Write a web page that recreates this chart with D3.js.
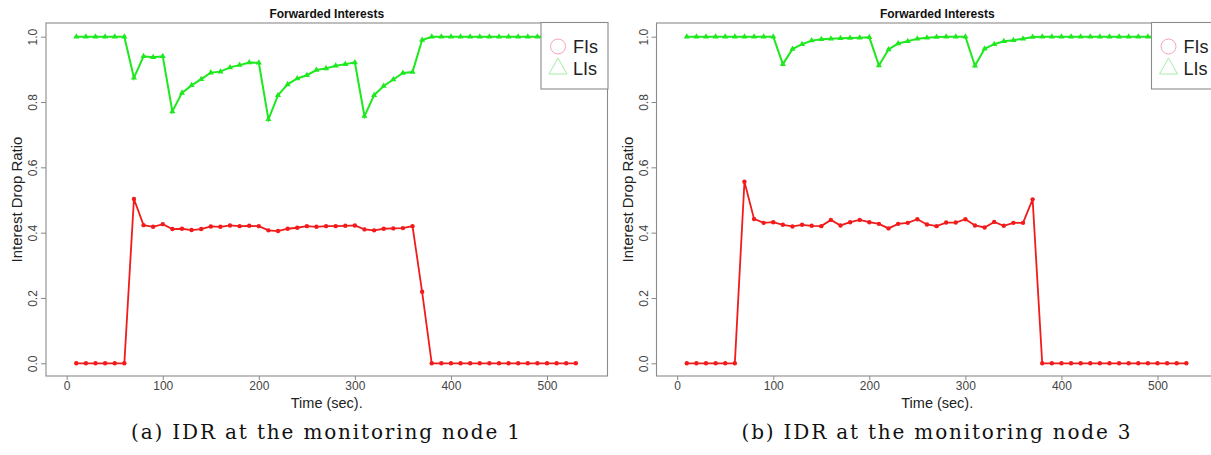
<!DOCTYPE html>
<html><head><meta charset="utf-8">
<script src="https://cdn.jsdelivr.net/npm/d3@7"></script>
<style>body{margin:0;background:#fff}svg{display:block}</style>
</head><body>
<svg id="c" width="1211" height="455"></svg>
<script>
const times = [10,20,30,40,50,60,70,80,90,100,110,120,130,140,150,160,170,180,190,200,210,220,230,240,250,260,270,280,290,300,310,320,330,340,350,360,370,380,390,400,410,420,430,440,450,460,470,480,490,500,510,520,530];
const xTicks = [0,100,200,300,400,500];
const yTicks = [0,0.2,0.4,0.6,0.8,1.0];
const yTickLabels = ["0.0","0.2","0.4","0.6","0.8","1.0"];
const seriesNames = ["FIs","LIs"];
const node1FIs = [0,0,0,0,0,0,
  0.503,0.423,0.418,0.426,0.411,0.412,0.408,0.411,0.419,0.418,
  0.422,0.420,0.421,0.420,0.407,0.405,0.412,0.415,0.420,0.418,
  0.420,0.420,0.421,0.422,0.410,0.407,0.412,0.413,0.414,0.420,
  0.219,
  0,0,0,0,0,0,0,0,0,0,0,0,0,0,0,0];
const node1LIs = [1,1,1,1,1,1,
  0.874,0.940,0.937,0.940,0.771,0.828,0.851,0.870,0.890,0.893,
  0.906,0.913,0.921,0.920,0.747,0.821,0.854,0.872,0.882,0.898,
  0.903,0.911,0.916,0.921,0.757,0.821,0.849,0.869,0.889,0.892,
  0.990,
  1,1,1,1,1,1,1,1,1,1,1,1,1,1,1,1];
const node3FIs = [0,0,0,0,0,0,
  0.556,0.442,0.430,0.432,0.424,0.419,0.424,0.421,0.420,0.439,
  0.422,0.432,0.439,0.432,0.427,0.413,0.427,0.430,0.441,0.425,
  0.420,0.431,0.431,0.441,0.422,0.416,0.433,0.421,0.430,0.430,
  0.502,
  0,0,0,0,0,0,0,0,0,0,0,0,0,0,0,0];
const node3LIs = [1,1,1,1,1,1,1,1,1,1,
  0.916,0.962,0.977,0.988,0.992,0.994,0.995,0.996,0.997,0.998,
  0.912,0.961,0.979,0.986,0.994,0.997,0.999,1,1,1,
  0.911,0.963,0.977,0.986,0.989,0.994,0.999,
  1,1,1,1,1,1,1,1,1,1,1,1,1,1,1,1];
const panelTitle = "Forwarded Interests";
const xLabel = "Time (sec).";
const yLabel = "Interest Drop Ratio";
const captions = ["(a) IDR at the monitoring node 1","(b) IDR at the monitoring node 3"];

const svg = d3.select("#c");
const RED = "#f21b1b", GREEN = "#1ee81e";
const sans = "'Liberation Sans', Arial, sans-serif";

function panel(ox, fis, lis, caption) {
  const g = svg.append("g").attr("transform", `translate(${ox},0)`);
  const box = {l:46, r:607.5, t:23, b:376};
  const x = d3.scaleLinear().domain([0,500]).range([66.7,547]);
  const y = d3.scaleLinear().domain([0,1]).range([363.3,36.7]);

  g.append("text").attr("x",(box.l+box.r)/2).attr("y",17.5).attr("text-anchor","middle")
    .attr("font-family",sans).attr("font-weight","bold").attr("font-size",12).attr("fill","#111")
    .text(panelTitle);

  // y axis
  const ya = g.append("g").attr("transform",`translate(${box.l},0)`)
    .call(d3.axisLeft(y).tickValues(yTicks).tickFormat((d,i)=>yTickLabels[i]).tickSize(5).tickSizeOuter(0));
  ya.select(".domain").remove();
  ya.selectAll("line").attr("stroke","#888");
  ya.selectAll(".tick text").attr("font-family",sans).attr("font-size",12).attr("fill","#444")
    .attr("text-anchor","middle").attr("transform","rotate(-90,-13,0)").attr("x",-13).attr("y",0).attr("dy","0.35em");

  // x axis
  const xa = g.append("g").attr("transform",`translate(0,${box.b})`)
    .call(d3.axisBottom(x).tickValues(xTicks).tickFormat(d3.format("d")).tickSize(4).tickSizeOuter(0));
  xa.select(".domain").remove();
  xa.selectAll("line").attr("stroke","#888");
  xa.selectAll("text").attr("font-family",sans).attr("font-size",12).attr("fill","#444").attr("y",5.5);

  g.append("rect").attr("x",box.l).attr("y",box.t).attr("width",box.r-box.l).attr("height",box.b-box.t)
    .attr("fill","none").attr("stroke","#8a8a8a").attr("stroke-width",1.1);

  g.append("text").attr("x",(box.l+box.r)/2).attr("y",408).attr("text-anchor","middle")
    .attr("font-family",sans).attr("font-size",14.5).attr("fill","#222").text(xLabel);
  g.append("text").attr("transform",`translate(22,${(box.t+box.b)/2}) rotate(-90)`).attr("text-anchor","middle")
    .attr("font-family",sans).attr("font-size",15).attr("fill","#222").text(yLabel);

  const line = d3.line().x((d,i)=>x(times[i])).y(d=>y(d));
  g.append("path").attr("d",line(fis)).attr("fill","none").attr("stroke",RED).attr("stroke-width",1.8);
  g.append("path").attr("d",line(lis)).attr("fill","none").attr("stroke",GREEN).attr("stroke-width",2);
  g.selectAll(".pf").data(fis).enter().append("circle").attr("cx",(d,i)=>x(times[i])).attr("cy",d=>y(d))
    .attr("r",2.2).attr("fill",RED);
  const tri = d3.symbol().type(d3.symbolTriangle).size(16);
  g.selectAll(".pl").data(lis).enter().append("path").attr("d",tri())
    .attr("transform",(d,i)=>`translate(${x(times[i])},${y(d)})`).attr("fill",GREEN);

  // legend
  const lg = g.append("g");
  lg.append("rect").attr("x",541).attr("y",22.5).attr("width",67).attr("height",66.5)
    .attr("fill","#fff").attr("stroke","#8a8a8a").attr("stroke-width",1.1);
  lg.append("circle").attr("cx",558).attr("cy",46.5).attr("r",7.5).attr("fill","none")
    .attr("stroke","#f4a3b3").attr("stroke-width",1);
  lg.append("path").attr("d","M558,58 L567,74 L549,74 Z").attr("fill","none")
    .attr("stroke","#a6eca6").attr("stroke-width",1);
  lg.append("text").attr("x",573).attr("y",53).attr("font-family",sans).attr("font-size",18).attr("fill","#222").text(seriesNames[0]);
  lg.append("text").attr("x",573).attr("y",75).attr("font-family",sans).attr("font-size",18).attr("fill","#222").text(seriesNames[1]);

  svg.append("text").attr("x",ox+325.5).attr("y",439).attr("text-anchor","middle")
    .attr("font-family","'DejaVu Serif','Liberation Serif',serif").attr("font-size",20).attr("fill","#111")
    .attr("textLength",389).attr("lengthAdjust","spacing").text(caption);
}
panel(0, node1FIs, node1LIs, captions[0]);
panel(610.5, node3FIs, node3LIs, captions[1]);
</script>
</body></html>
